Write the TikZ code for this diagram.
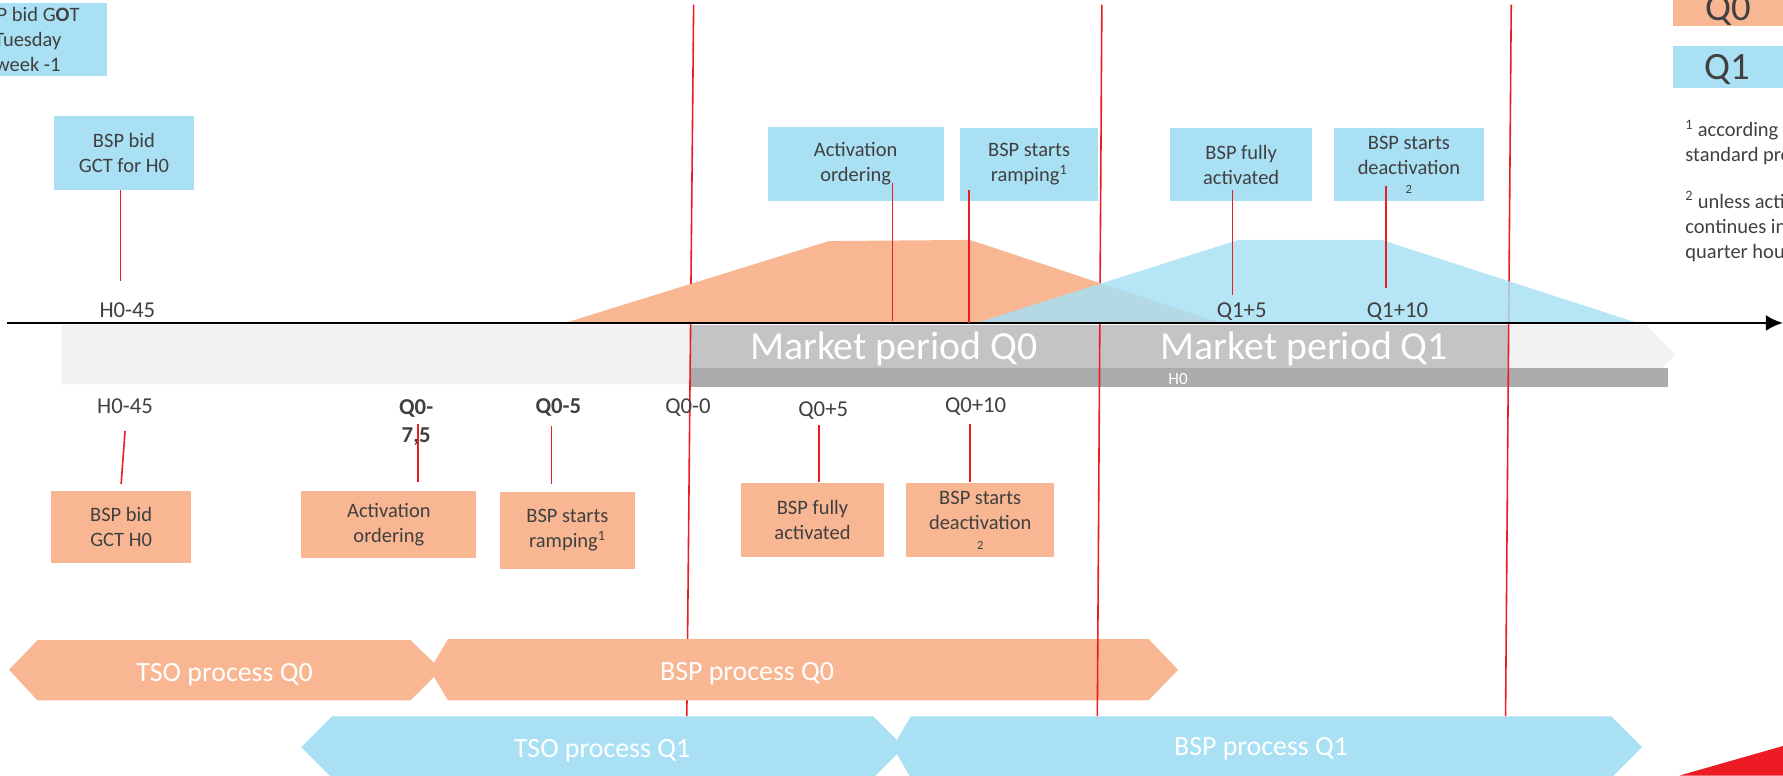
\documentclass[tikz,border=0pt]{standalone}
\usepackage{fontspec}
\setmainfont{Carlito}
\usetikzlibrary{calc, arrows.meta}
\definecolor{qorange}{RGB}{248,183,146}
\definecolor{qblue}{RGB}{169,224,243}
\definecolor{qred}{RGB}{237,28,36}
\definecolor{qtext}{RGB}{64,64,64}
\definecolor{greyA}{RGB}{242,242,242}
\definecolor{greyB}{RGB}{196,196,196}
\definecolor{greyC}{RGB}{171,171,171}

\begin{document}
\begin{tikzpicture}[x=1pt, y=1pt,
  txt/.style={inner sep=0pt, text=qtext, align=center},
  bbox/.style={txt, fill=qblue, font=\fontsize{18}{22}\selectfont},
  obox/.style={txt, fill=qorange, font=\fontsize{18}{22}\selectfont},
  lbl/.style={txt, anchor=base, font=\fontsize{20}{23}\selectfont},
  proc/.style={inner sep=0pt, anchor=base, text=white, font=\fontsize{24.5}{26}\selectfont},
  period/.style={inner sep=0pt, anchor=base, text=white, font=\fontsize{35}{35}\selectfont},
  legtxt/.style={inner sep=0pt, anchor=base, text=qtext, font=\fontsize{34}{34}\selectfont},
  note/.style={inner sep=0pt, anchor=base west, text=qtext, font=\fontsize{18}{22}\selectfont},
  redtick/.style={draw=qred, line width=1.4pt},
  boundary/.style={draw=qred, line width=1.4pt}]
\clip (0,0) rectangle (1568,-682);

% market periods
\fill[greyA] (54,-286) -- (1448,-286) -- (1473,-312) -- (1448,-338) -- (54,-338) -- cycle;
\fill[greyB] (607,-286) rectangle (1326,-324);
\fill[greyC] (607,-323.5) rectangle (1467,-340);
\node[period] (mpQ0) at (786,-316) {Market period Q0};
\node[period] (mpQ1) at (1147,-316.5) {Market period Q1};
\node[inner sep=0pt, text=white, font=\fontsize{15}{15}\selectfont] (hour) at (1036,-333) {H0};

% quarter hour boundaries
\coordinate (b0top) at (610,-4);
\coordinate (b0bot) at (604,-630);
\coordinate (b1top) at (969,-4);
\coordinate (b1bot) at (965,-630);
\coordinate (b2top) at (1329,-4);
\coordinate (b2bot) at (1324,-630);
\draw[boundary] (b0top) -- (b0bot);

% processes Q0
\fill[qorange] (8,-589) -- (33,-563) -- (361,-563) -- (388,-589) -- (361,-616) -- (33,-616) -- cycle;
\fill[qorange] (378,-589) -- (394,-562) -- (1010,-562) -- (1036,-589) -- (1010,-616) -- (394,-616) -- cycle;
\node[proc] (tsoQ0) at (197.5,-599) {TSO process Q0};
\node[proc] (bspQ0) at (657,-598) {BSP process Q0};

\draw[boundary] (b1top) -- (b1bot);
\draw[boundary] (b2top) -- (b2bot);

% activation profiles
\fill[qorange] (500,-283) -- (729,-212) -- (853,-211) -- (1070,-283) -- cycle;
\fill[qblue, opacity=0.85] (862,-283) -- (1089,-211) -- (1215,-211) -- (1437,-283) -- cycle;

% time axis
\coordinate (axisL) at (6,-284);
\coordinate (axisR) at (1568,-284);
\draw[line width=2.5pt, -{Latex[length=15pt, width=14pt]}] (axisL) -- (axisR);

% processes Q1
\fill[qblue] (265,-657) -- (292,-630) -- (768,-630) -- (795,-657) -- (768,-684) -- (292,-684) -- cycle;
\fill[qblue] (785,-657) -- (801,-630) -- (1417,-630) -- (1444,-657) -- (1417,-684) -- (801,-684) -- cycle;
\node[proc] (tsoQ1) at (529.5,-666.5) {TSO process Q1};
\node[proc] (bspQ1) at (1109,-664) {BSP process Q1};

% Q1 events (top)
\node[bbox, minimum width=139pt, minimum height=64pt] (gotBox) at (24.5,-35) {BSP bid G\textbf{O}T\\Tuesday\\week -1};
\node[bbox, minimum width=123pt, minimum height=65pt] (gctTop) at (109,-134.5) {BSP bid\\GCT for H0};
\node[bbox, minimum width=155pt, minimum height=65pt] (actTop) at (752.5,-144) {Activation\\ordering};
\node[bbox, minimum width=122pt, minimum height=64pt] (rampTop) at (905,-144.5) {BSP starts\\ramping\textsuperscript{1}};
\node[bbox, minimum width=125pt, minimum height=64pt] (fullTop) at (1091.5,-145) {BSP fully\\activated};
\node[bbox, minimum width=132pt, minimum height=64pt] (deactTop) at (1239,-145) {BSP starts\\deactivation\\[-5pt]{\fontsize{11}{11}\selectfont 2}};
\node[lbl] (h45Top) at (112,-279) {H0-45};
\node[lbl] (q1p5) at (1092,-279) {Q1+5};
\node[lbl] (q1p10) at (1229,-279) {Q1+10};
\coordinate (gctTopEv) at (106,-247);
\coordinate (actTopEv) at (785,-282);
\coordinate (rampTopEv) at (852,-284);
\coordinate (fullTopEv) at (1084,-259);
\coordinate (deactTopEv) at (1219,-253);
\draw[redtick] (gctTop.south -| gctTopEv) -- (gctTopEv);
\draw[redtick] ($(actTop.south -| actTopEv)+(0,16)$) -- (actTopEv);
\draw[redtick] ($(rampTop.south -| rampTopEv)+(0,9.5)$) -- (rampTopEv);
\draw[redtick] ($(fullTop.south -| fullTopEv)+(0,10)$) -- (fullTopEv);
\draw[redtick] ($(deactTop.south -| deactTopEv)+(0,14)$) -- (deactTopEv);

% Q0 events (bottom)
\node[lbl] (h45Bot) at (110,-364) {H0-45};
\node[lbl, anchor=north, font=\fontsize{20}{25}\selectfont\bfseries] (q0m75) at (366,-351) {Q0-\\7,5};
\node[lbl, font=\fontsize{20}{23}\selectfont\bfseries] (q0m5) at (491,-364) {Q0-5};
\node[lbl] (q0m0) at (605,-364) {Q0-0};
\node[lbl] (q0p5) at (724,-366.5) {Q0+5};
\node[lbl] (q0p10) at (858,-363) {Q0+10};
\node[obox, minimum width=123pt, minimum height=63pt] (gctBot) at (106.5,-463.5) {BSP bid\\GCT H0};
\node[obox, minimum width=154pt, minimum height=59pt] (actBot) at (342,-461.5) {Activation\\ordering};
\node[obox, minimum width=118pt, minimum height=67pt] (rampBot) at (499,-466.5) {BSP starts\\ramping\textsuperscript{1}};
\node[obox, minimum width=125pt, minimum height=65pt] (fullBot) at (714.5,-457.5) {BSP fully\\activated};
\node[obox, minimum width=130pt, minimum height=65pt] (deactBot) at (862,-457.5) {BSP starts\\deactivation\\[-5pt]{\fontsize{11}{11}\selectfont 2}};
\coordinate (gctBotEv) at (110,-379);
\coordinate (actBotEv) at (367.5,-373);
\coordinate (rampBotEv) at (485,-374.5);
\coordinate (fullBotEv) at (720,-374);
\coordinate (deactBotEv) at (853,-373);
\draw[redtick] (gctBotEv) -- ($(gctBot.north)+(0,6)$);
\draw[redtick] (actBotEv) -- ($(actBot.north -| actBotEv)+(0,8)$);
\draw[redtick] (rampBotEv) -- ($(rampBot.north -| rampBotEv)+(0,7)$);
\draw[redtick] (fullBotEv) -- ($(fullBot.north -| fullBotEv)+(0,1)$);
\draw[redtick] (deactBotEv) -- ($(deactBot.north -| deactBotEv)+(0,1)$);

% legend and footnotes
\fill[qorange] (1471,5) rectangle (1575,-22.6);
\node[legtxt] (legQ0) at (1520,-18) {Q0};
\fill[qblue] (1471,-40.5) rectangle (1575,-77);
\node[legtxt] (legQ1) at (1519,-70) {Q1};
\node[note] (fn1a) at (1482,-120) {\textsuperscript{1} according to};
\node[note] (fn1b) at (1482,-142) {standard product};
\node[note] (fn2a) at (1482,-183) {\textsuperscript{2} unless activation};
\node[note] (fn2b) at (1482,-205) {continues in next};
\node[note] (fn2c) at (1482,-227) {quarter hour};

\fill[qred] (1477,-682) -- (1568,-656) -- (1568,-682) -- cycle;
\end{tikzpicture}
\end{document}
